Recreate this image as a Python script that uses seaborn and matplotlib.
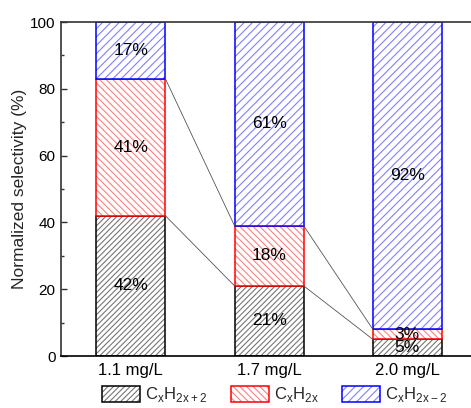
import numpy as np
import pandas as pd
import matplotlib
matplotlib.use("Agg")
import matplotlib.pyplot as plt
import seaborn as sns
from matplotlib.patches import Patch
from matplotlib.legend_handler import HandlerTuple

categories = ["1.1 mg/L", "1.7 mg/L", "2.0 mg/L"]
alkane = [42, 21, 5]     # CxH2x+2
alkene = [41, 18, 3]     # CxH2x
alkyne = [17, 61, 92]    # CxH2x-2
series_labels = ["C$_\\mathregular{x}$H$_\\mathregular{2x+2}$",
                 "C$_\\mathregular{x}$H$_\\mathregular{2x}$",
                 "C$_\\mathregular{x}$H$_\\mathregular{2x-2}$"]
yticks = [0, 20, 40, 60, 80, 100]

sns.set_style("ticks")
plt.rcParams['font.family'] = ['Liberation Sans', 'DejaVu Sans']
plt.rcParams['hatch.linewidth'] = 0.8

fig = plt.figure(figsize=(4.71, 4.08), dpi=100)
ax = fig.add_axes([61/471, 52/408, 410/471, 334/408])

edge_cols = ["#000000", "#ff0000", "#0000ff"]
hatch_cols = ["#777777", "#ff8080", "#8080ff"]
hatches = ["//////", "\\\\\\\\\\", "////"]
data = [alkane, alkene, alkyne]
bw = 0.5

bottoms = np.zeros(len(categories))
for vals, ec, hc, h in zip(data, edge_cols, hatch_cols, hatches):
    df = pd.DataFrame({"cat": categories, "val": vals})
    sns.barplot(data=df, x="cat", y="val", ax=ax, color="white", width=bw,
                bottom=bottoms, edgecolor=hc, hatch=h, linewidth=0, saturation=1)
    sns.barplot(data=df, x="cat", y="val", ax=ax, color="white", width=bw,
                bottom=bottoms, fill=False, edgecolor=ec, linewidth=1.1)
    for i, v in enumerate(vals):
        ax.text(i, bottoms[i] + v / 2, f"{v}%", ha="center", va="center",
                fontsize=12.5, color="black", zorder=5)
    bottoms = bottoms + np.array(vals)

# connecting lines
cum1 = np.array(alkane)
cum2 = np.array(alkane) + np.array(alkene)
for cum in (cum1, cum2):
    for i in range(len(categories) - 1):
        ax.plot([i + bw / 2, i + 1 - bw / 2], [cum[i], cum[i + 1]],
                color="#555555", lw=0.6, zorder=1)

ax.set_xlim(-0.505, 2.46)
ax.set_ylim(0, 100)
ax.set_yticks(yticks)
ax.set_yticks([10, 30, 50, 70, 90], minor=True)
ax.tick_params(axis="y", which="major", direction="in", length=4, width=1,
               labelsize=11, colors="#333333", labelcolor="black", pad=4)
ax.tick_params(axis="y", which="minor", direction="in", length=2.5, width=1,
               colors="#333333")
ax.tick_params(axis="x", length=0, labelsize=12, pad=5, labelcolor="black")
ax.set_xlabel("")
ax.set_ylabel("Normalized selectivity (%)", fontsize=12.5, labelpad=2)
for s in ["left", "top", "bottom"]:
    ax.spines[s].set_visible(True)
    ax.spines[s].set_color("#333333")
    ax.spines[s].set_linewidth(1.2)
ax.spines["bottom"].set_color("black")
ax.spines["right"].set_visible(False)

handles = []
for ec, hc, h in zip(edge_cols, hatch_cols, hatches):
    p1 = Patch(facecolor="white", edgecolor=hc, hatch=h, linewidth=0)
    p2 = Patch(facecolor="none", edgecolor=ec, linewidth=1.1)
    handles.append((p1, p2))
fig.legend(handles, series_labels, loc="center", ncol=3,
           bbox_to_anchor=(0.583, 13/408), frameon=False, fontsize=12,
           handlelength=2.28, handleheight=1.15, handletextpad=0.3,
           columnspacing=1.38, borderpad=0.2,
           handler_map={tuple: HandlerTuple(ndivide=1, pad=0)})

fig.savefig("out.png", dpi=100)
